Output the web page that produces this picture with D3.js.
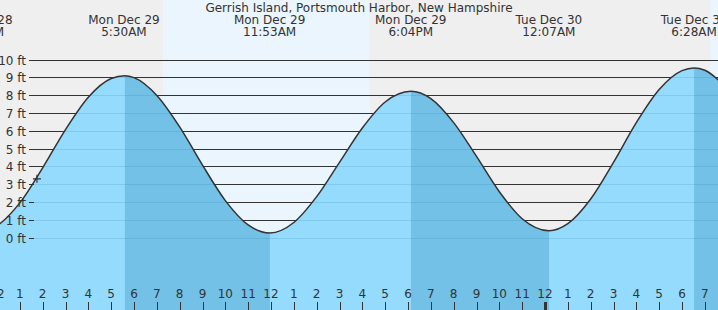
<!DOCTYPE html>
<html>
<head>
<meta charset="utf-8">
<script src="https://cdn.jsdelivr.net/npm/d3@7/dist/d3.min.js"></script>
<style>
  html, body { margin: 0; padding: 0; background: #fff; }
  svg { display: block; }
  text { font-family: "DejaVu Sans", sans-serif; }
</style>
</head>
<body>
<svg id="chart" width="718" height="310"></svg>
<script>
// ---- Data (hours since Mon Dec 29 00:00) ----
const title = "Gerrish Island, Portsmouth Harbor, New Hampshire";

// Tide extremes (high / low)
const extremeHours  = [-0.83, 5.56, 11.94, 18.12, 24.17, 30.53];
const extremeLevels = [0.37, 9.15, 0.31, 8.27, 0.43, 9.58];
const extremeDays   = ["Sun Dec 28", "Mon Dec 29", "Mon Dec 29", "Mon Dec 29", "Tue Dec 30", "Tue Dec 30"];
const extremeTimes  = ["11:10PM", "5:30AM", "11:53AM", "6:04PM", "12:07AM", "6:28AM"];

// Tide level readings (ft) along the curve
const sampleHours  = [-1, -0.83, 0, 1, 2, 3, 4, 5, 5.6, 6, 7, 8, 9, 10, 11, 11.95,
                      13, 14, 15, 16, 17, 18.13, 19, 20, 21, 22, 23, 24.18,
                      25, 26, 27, 28, 29, 30, 30.53, 31, 32];
const sampleLevels = [0.38, 0.37, 0.72, 2.0, 3.97, 6.12, 7.94, 8.99, 9.15, 9.04, 8.04, 6.27, 4.12, 2.13, 0.76, 0.31,
                      0.90, 2.35, 4.28, 6.21, 7.67, 8.27, 7.86, 6.51, 4.61, 2.63, 1.11, 0.43,
                      0.83, 2.22, 4.28, 6.51, 8.37, 9.43, 9.58, 9.45, 8.39];

// Falling tide intervals (high -> low)
const fallingStart = [5.6, 18.13, 30.53];
const fallingEnd   = [11.95, 24.18, 36.8];

// Daylight intervals
const dayStart = [7.27, 31.23];
const dayEnd   = [16.33, 40];

// Current time marker
const nowHour = 1.75;
const nowLevel = 3.35;

// Axis ticks
const hourTicks = d3.range(-1, 33);
const ftTicks = [0, 1, 2, 3, 4, 5, 6, 7, 8, 9, 10];

// ---- Drawing ----
const W = 718, H = 310;
const svg = d3.select("#chart");

const x = d3.scaleLinear().domain([0, 12]).range([-3, 271]);
const y = d3.scaleLinear().domain([0, 10]).range([238.5, 60.5]);
const gy = d => Math.round(y(d)) - 0.5;

// background (night)
svg.append("rect").attr("x", 0).attr("y", 0).attr("width", W).attr("height", H).attr("fill", "#efefef");
// daylight
svg.selectAll("rect.day").data(dayStart.map((s, i) => [s, dayEnd[i]])).enter()
  .append("rect").attr("class", "day")
  .attr("x", d => x(d[0])).attr("y", 0)
  .attr("width", d => x(d[1]) - x(d[0])).attr("height", H)
  .attr("fill", "#eaf5fd");

// grid lines
svg.append("g").selectAll("line").data(ftTicks).enter().append("line")
  .attr("x1", 29).attr("x2", W)
  .attr("y1", gy).attr("y2", gy)
  .attr("stroke", "#333").attr("stroke-width", 1);

// water
const pts = sampleHours.map((h, i) => [h, sampleLevels[i]]);
const area = d3.area().x(d => x(d[0])).y0(H).y1(d => y(d[1])).curve(d3.curveMonotoneX);
const line = d3.line().x(d => x(d[0])).y(d => y(d[1])).curve(d3.curveMonotoneX);

const defs = svg.append("defs");
defs.append("clipPath").attr("id", "water").append("path").attr("d", area(pts));

svg.append("path").attr("d", area(pts)).attr("fill", "#95dbfd");

const wg = svg.append("g").attr("clip-path", "url(#water)");
wg.selectAll("rect").data(fallingStart.map((s, i) => [s, fallingEnd[i]])).enter()
  .append("rect")
  .attr("x", d => x(d[0])).attr("y", 0)
  .attr("width", d => x(d[1]) - x(d[0])).attr("height", H)
  .attr("fill", "#73c1e6");
wg.selectAll("line").data(ftTicks).enter().append("line")
  .attr("x1", 29).attr("x2", W)
  .attr("y1", gy).attr("y2", gy)
  .attr("stroke", "rgba(0,90,150,0.13)").attr("stroke-width", 1);
// short tick stubs next to labels, visible under water
wg.selectAll("line.stub").data(ftTicks).enter().append("line").attr("class", "stub")
  .attr("x1", 29).attr("x2", 34)
  .attr("y1", gy).attr("y2", gy)
  .attr("stroke", "#333").attr("stroke-width", 1);

svg.append("path").attr("d", line(pts)).attr("fill", "none")
  .attr("stroke", "#333").attr("stroke-width", 1.5);

// y labels (on top)
svg.append("g").selectAll("text").data(ftTicks).enter().append("text")
  .attr("x", 26).attr("y", gy).attr("dy", "0.36em")
  .attr("text-anchor", "end").attr("font-size", 12).attr("fill", "#333")
  .text(d => d + " ft");

// bottom hour axis
const hg = svg.append("g");
hg.selectAll("text").data(hourTicks).enter().append("text")
  .attr("x", d => x(d)).attr("y", 298)
  .attr("text-anchor", "middle").attr("font-size", 12).attr("fill", "#333")
  .text(d => { const m = ((d % 12) + 12) % 12; return m === 0 ? 12 : m; });
hg.selectAll("line").data(hourTicks).enter().append("line")
  .attr("x1", d => Math.round(x(d)) + 0.5).attr("x2", d => Math.round(x(d)) + 0.5)
  .attr("y1", 302).attr("y2", H)
  .attr("stroke", "#333")
  .attr("stroke-width", d => (((d % 24) + 24) % 24 === 0) ? 3 : 1);

// extreme labels
const eg = svg.append("g");
extremeHours.forEach((h, i) => {
  const t = eg.append("text").attr("x", x(h)).attr("text-anchor", "middle")
    .attr("font-size", 12).attr("fill", "#333");
  t.append("tspan").attr("x", x(h)).attr("y", 24).text(extremeDays[i]);
  t.append("tspan").attr("x", x(h)).attr("y", 36).text(extremeTimes[i]);
});

// title
svg.append("text").attr("x", 359).attr("y", 12).attr("text-anchor", "middle")
  .attr("font-size", 12).attr("fill", "#333").text(title);

// current time marker
const mx = x(nowHour), my = y(nowLevel);
svg.append("path").attr("d", `M${mx - 4},${my}H${mx + 4}M${mx},${my - 4}V${my + 4}`)
  .attr("stroke", "#333").attr("stroke-width", 1.2).attr("fill", "none");
</script>
</body>
</html>
